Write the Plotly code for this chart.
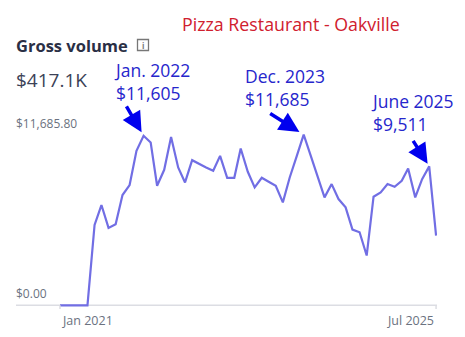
import plotly.graph_objects as go
import pandas as pd

months = pd.date_range("2021-01-01", "2025-07-01", freq="MS").strftime("%Y-%m-%d").tolist()
gross = [0, 0, 0, 0, 0, 5502, 6866, 5297, 5547, 7548, 8230, 10572,
         11605, 11140, 8185, 9276, 11527, 9435, 8412, 9935, 9662, 9435, 9208, 10231,
         8730, 8730, 10731, 9139, 8071, 8730, 8457, 8185, 7048, 8753, 10231, 11685,
         10231, 8821, 7389, 8298, 7275, 6707, 5184, 5002, 3410, 7434, 7730, 8298,
         8116, 8526, 9367, 7389, 8639, 9511, 4774]

y_max_label = 11685.80
y_tick_labels = ["$0.00", "$11,685.80"]
x_tick_dates = ["2021-01-01", "2025-07-01"]
x_tick_labels = ["Jan 2021", "Jul 2025"]

callouts = [
    {"date": "2022-01-01", "value": 11605, "text": "Jan. 2022<br>$11,605"},
    {"date": "2023-12-01", "value": 11685, "text": "Dec. 2023<br>$11,685"},
    {"date": "2025-06-01", "value": 9511, "text": "June 2025<br>$9,511"},
]

FONT = "Open Sans"
GRAY = "#6b7280"
BLUE_TXT = "#2626cc"
ARROW = "#0000ee"

fig = go.Figure()
fig.add_trace(go.Scatter(
    x=months, y=gross, mode="lines",
    line=dict(color="#716ee4", width=2.2),
    hoverinfo="skip", showlegend=False,
))

fig.update_layout(
    width=465, height=337,
    margin=dict(l=16, r=28, t=130, b=28),
    paper_bgcolor="white", plot_bgcolor="white",
    font=dict(family=FONT, color=GRAY),
    xaxis=dict(range=["2020-06-23", "2025-07-05"], showgrid=False, zeroline=False,
               showline=False, showticklabels=False, ticks=""),
    yaxis=dict(range=[-250, 12000], showgrid=False, zeroline=False,
               showline=False, showticklabels=False),
)

# baseline
fig.add_shape(type="line", xref="paper", yref="y", x0=0, x1=1, y0=0, y1=0,
              line=dict(color="#dcdde3", width=1.5), layer="below")
# tick marks
for d in x_tick_dates:
    fig.add_shape(type="line", xref="x", yref="y", ysizemode="pixel", yanchor=0,
                  x0=d, x1=d, y0=0, y1=-6, line=dict(color="#dcdde3", width=1.5))

# x tick labels
fig.add_annotation(x=x_tick_dates[0], y=0, xref="x", yref="y", yshift=-15,
                   text=x_tick_labels[0], showarrow=False, xanchor="left",
                   font=dict(size=12.5, color=GRAY, family=FONT))
fig.add_annotation(x=x_tick_dates[1], y=0, xref="x", yref="y", yshift=-15,
                   text=x_tick_labels[1], showarrow=False, xanchor="right",
                   font=dict(size=12.5, color=GRAY, family=FONT))

# y labels
for v, t in zip([0, y_max_label], y_tick_labels):
    fig.add_annotation(x=0, y=v, xref="paper", yref="y", text=t, showarrow=False,
                       xanchor="left", yanchor="bottom", yshift=1, xshift=-2,
                       font=dict(size=12, color=GRAY, family=FONT))


def px_x(p):
    return (p - 16) / (465 - 16 - 28)


def px_y(p):
    return (337 - 28 - p) / (337 - 130 - 28)


fig.add_annotation(x=px_x(291), y=px_y(24), xref="paper", yref="paper",
                   text="Pizza Restaurant - Oakville", showarrow=False,
                   xanchor="center", yanchor="middle",
                   font=dict(size=17.8, color="#d0202e", family=FONT))
fig.add_annotation(x=px_x(14), y=px_y(45), xref="paper", yref="paper",
                   text="<b>Gross volume</b>", showarrow=False,
                   xanchor="left", yanchor="middle",
                   font=dict(size=16.5, color="#2a2f45", family=FONT))
fig.add_annotation(x=px_x(14), y=px_y(80), xref="paper", yref="paper",
                   text="$417.1K", showarrow=False,
                   xanchor="left", yanchor="middle",
                   font=dict(size=19, color="#3c4257", family=FONT))
# info icon
fig.add_shape(type="rect", xref="paper", yref="paper",
              x0=px_x(137.5), x1=px_x(148.5), y0=px_y(50.5), y1=px_y(39.5),
              line=dict(color="#777", width=1.3), fillcolor="white")
fig.add_annotation(x=px_x(143), y=px_y(45), xref="paper", yref="paper",
                   text="<b>i</b>", showarrow=False, xanchor="center", yanchor="middle",
                   font=dict(size=8, color="#777", family=FONT))

# callout texts
text_pos = [(112, 81), (243, 87), (369, 112)]
for c, (tx, ty) in zip(callouts, text_pos):
    fig.add_annotation(x=px_x(tx), y=px_y(ty), xref="paper", yref="paper",
                       text=c["text"], showarrow=False, align="left",
                       xanchor="left", yanchor="middle",
                       font=dict(size=17.5, color=BLUE_TXT, family=FONT))

# arrows
arrow_off = [(-18, -31, 4), (-35, -22, 5), (-17, -27, 3)]
for c, (ax, ay, so) in zip(callouts, arrow_off):
    fig.add_annotation(x=c["date"], y=c["value"], xref="x", yref="y", text="",
                       showarrow=True, ax=ax, ay=ay, arrowhead=2, arrowsize=1.15,
                       arrowwidth=3.5, arrowcolor=ARROW, standoff=so)

fig.write_html("out.html")
